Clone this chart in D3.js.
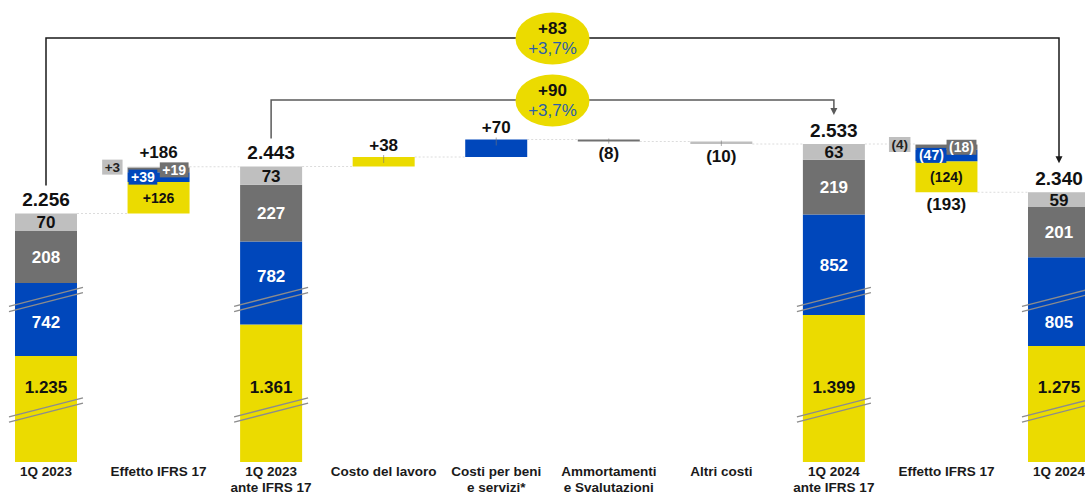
<!DOCTYPE html>
<html>
<head>
<meta charset="utf-8">
<script src="https://cdn.jsdelivr.net/npm/d3@7"></script>
<style>
  body { margin: 0; background: #fff; }
  svg { display: block; font-family: 'Liberation Sans', Arial, sans-serif; }
</style>
</head>
<body>
<div id="chart"></div>
<script>
// categories (\n = second line of the label)
const categories = ['1Q 2023', 'Effetto IFRS 17', '1Q 2023\nante IFRS 17', 'Costo del lavoro',
  'Costi per beni\ne servizi*', 'Ammortamenti\ne Svalutazioni', 'Altri costi',
  '1Q 2024\nante IFRS 17', 'Effetto IFRS 17', '1Q 2024'];
const kinds = ['total', 'delta', 'total', 'delta', 'delta', 'delta', 'delta', 'total', 'delta', 'total'];

// stacked components, bottom -> top (null = not present)
const yellowVals = [1235, 126, 1361, 38, null, null, null, 1399, -124, 1275];
const blueVals = [742, 39, 782, null, 70, null, null, 852, -47, 805];
const darkVals = [208, 19, 227, null, null, -8, null, 219, -18, 201];
const lightVals = [70, 3, 73, null, null, null, -10, 63, -4, 59];

// printed totals / variations
const totals = [2256, 186, 2443, 38, 70, -8, -10, 2533, -193, 2340];

// comparison brackets
const bracketFrom = [0, 2];
const bracketTo = [9, 7];
const bracketDelta = [83, 90];
const bracketPct = ['+3,7%', '+3,7%'];

const colors = ['#ebdb00', '#0047bb', '#707070', '#bfbfbf'];
const textColors = ['#111', '#fff', '#fff', '#111'];
const series = [yellowVals, blueVals, darkVals, lightVals];

const width = 1085, height = 495;
const baseY = 462;
const barW = 62;
// axis breaks inside the total bars (blue and yellow parts are shortened)
const blueCut = 450, yellowCut = 811;
const breakAt = [1469, 1911]; // yellow, blue break positions (shortened domain)

const fmt = d3.formatLocale({ decimal: ',', thousands: '.', grouping: [3], currency: ['', ''] }).format(',d');
const signed = v => v < 0 ? '(' + fmt(-v) + ')' : '+' + fmt(v);

const x = d3.scalePoint().domain(d3.range(categories.length)).range([46, 1059]);
const y = d3.scaleLinear().domain([yellowCut + blueCut, 2600]).range([baseY, baseY - 0.25 * (2600 - yellowCut - blueCut)]);

const svg = d3.select('#chart').append('svg')
  .attr('width', width)
  .attr('height', height);

// build bar pieces
let level = 0;
const bars = categories.map((c, i) => {
  const vals = series.map(s => s[i]);
  if (kinds[i] === 'total') {
    const [v1, v2, v3, v4] = vals;
    const pieces = [
      { s: 0, lo: yellowCut + blueCut, hi: v1 + blueCut, v: v1 },
      { s: 1, lo: v1 + blueCut, hi: v1 + v2, v: v2 },
      { s: 2, lo: v1 + v2, hi: v1 + v2 + v3, v: v3 },
      { s: 3, lo: v1 + v2 + v3, hi: v1 + v2 + v3 + v4, v: v4 }
    ];
    level = v1 + v2 + v3 + v4;
    return { i, kind: 'total', pieces, top: level, bottom: yellowCut + blueCut, end: level };
  }
  const sum = d3.sum(vals.filter(v => v != null));
  const start = level, end = level + sum;
  let acc = Math.min(start, end);
  const pieces = [];
  vals.forEach((v, s) => {
    if (v == null) return;
    pieces.push({ s, lo: acc, hi: acc + Math.abs(v), v });
    acc += Math.abs(v);
  });
  level = end;
  return { i, kind: 'delta', pieces, top: Math.max(start, end), bottom: Math.min(start, end), end, sum };
});

// connectors
const conn = svg.append('g');
for (let i = 0; i < bars.length - 1; i++) {
  conn.append('line')
    .attr('x1', x(i) + barW / 2).attr('x2', x(i + 1) - barW / 2)
    .attr('y1', y(bars[i].end)).attr('y2', y(bars[i].end))
    .attr('stroke', '#dcdcdc').attr('stroke-width', 1).attr('stroke-dasharray', '2,2');
}

// bars
const g = svg.append('g');
bars.forEach(b => {
  const bg = g.append('g');
  bg.selectAll('rect')
    .data(b.pieces)
    .enter().append('rect')
    .attr('x', x(b.i) - barW / 2)
    .attr('width', barW)
    .attr('y', d => y(d.hi))
    .attr('height', d => Math.max(1, y(d.lo) - y(d.hi)))
    .attr('fill', d => colors[d.s]);

  if (b.kind === 'total') {
    // break marks
    breakAt.forEach(bv => {
      const yb = y(bv);
      [-2.6, 2.6].forEach(off => {
        bg.append('line')
          .attr('x1', x(b.i) - barW / 2 - 6).attr('x2', x(b.i) + barW / 2 + 6)
          .attr('y1', yb + 9.5 + off).attr('y2', yb - 9.5 + off)
          .attr('stroke', '#8c8c8c').attr('stroke-width', 1.3);
      });
    });
    // segment labels
    b.pieces.forEach(p => {
      let cy = (y(p.lo) + y(p.hi)) / 2;
      if (p.s < 2) {
        const yb = y(breakAt[p.s]);
        if (Math.abs(cy - yb) < 23) cy = cy < yb ? yb - 23 : yb + 23;
      }
      bg.append('text')
        .attr('x', x(b.i)).attr('y', cy).attr('dy', '0.35em')
        .attr('text-anchor', 'middle')
        .attr('font-size', 17).attr('font-weight', 'bold')
        .attr('fill', textColors[p.s])
        .text(fmt(p.v));
    });
    // total above
    bg.append('text')
      .attr('x', x(b.i)).attr('y', y(b.top) - 14).attr('dy', '0.35em')
      .attr('text-anchor', 'middle')
      .attr('font-size', 19).attr('font-weight', 'bold').attr('fill', '#111')
      .text(fmt(totals[b.i]));
  } else {
    const neg = totals[b.i] < 0;
    const multi = b.pieces.length > 1;
    bg.append('text')
      .attr('x', x(b.i))
      .attr('y', neg ? y(b.bottom) + 12 : y(b.top) - (multi ? 15 : 12))
      .attr('dy', '0.35em')
      .attr('text-anchor', 'middle')
      .attr('font-size', 17).attr('font-weight', 'bold').attr('fill', '#111')
      .text(signed(totals[b.i]));

    if (!multi) {
      // small leader tick
      const edge = neg ? y(b.bottom) : y(b.top);
      const dir = neg ? -1 : 1;
      bg.append('line')
        .attr('x1', x(b.i)).attr('x2', x(b.i))
        .attr('y1', edge - 2 * dir).attr('y2', edge + Math.min(6, y(b.bottom) - y(b.top) + 1) * dir)
        .attr('stroke', '#777').attr('stroke-opacity', 0.6).attr('stroke-width', 1);
      return;
    }
    // labels of the IFRS 17 components
    const left = x(b.i) - barW / 2, right = x(b.i) + barW / 2;
    b.pieces.forEach(p => {
      const cy = (y(p.lo) + y(p.hi)) / 2;
      if (p.s === 0) {
        bg.append('text')
          .attr('x', x(b.i)).attr('y', cy).attr('dy', '0.35em')
          .attr('text-anchor', 'middle')
          .attr('font-size', 14).attr('font-weight', 'bold').attr('fill', '#111')
          .text(signed(p.v));
        return;
      }
      const box = bg.append('g');
      const rect = box.append('rect').attr('fill', colors[p.s]);
      const t = box.append('text')
        .attr('dy', '0.35em')
        .attr('font-size', p.s === 3 ? 13.5 : 14).attr('font-weight', 'bold')
        .attr('fill', textColors[p.s] === '#111' ? '#222' : '#fff')
        .text(signed(p.v));
      const tw = t.node().getComputedTextLength() + 5;
      let bx;
      if (p.s === 1) bx = left + 1;
      else if (p.s === 2) bx = right - 1 - tw;
      else bx = left - 5 - tw;
      rect.attr('x', bx).attr('y', cy - 7.5).attr('width', tw).attr('height', 15);
      t.attr('x', bx + 2.5).attr('y', cy);
    });
  }
});

// brackets with ellipses
const bracketY = [38, 100];
const bracketColor = ['#1a1a1a', '#5a5a5a'];
bracketFrom.forEach((f, k) => {
  const t = bracketTo[k];
  const ly = bracketY[k];
  const y0 = y(bars[f].top) - 28;
  const y1 = y(bars[t].top) - 29;
  const bk = svg.append('g');
  bk.append('path')
    .attr('d', `M${x(f)},${y0}V${ly}H${x(t)}V${y1 - 6}`)
    .attr('fill', 'none').attr('stroke', bracketColor[k]).attr('stroke-width', 1.5);
  bk.append('path')
    .attr('d', `M${x(t) - 3.5},${y1 - 7}L${x(t) + 3.5},${y1 - 7}L${x(t)},${y1}Z`)
    .attr('fill', bracketColor[k]);
  const cx = (x(f) + x(t)) / 2;
  bk.append('ellipse')
    .attr('cx', cx).attr('cy', ly + 0.5).attr('rx', 37).attr('ry', 26)
    .attr('fill', colors[0]);
  bk.append('text')
    .attr('x', cx).attr('y', ly - 9.5).attr('dy', '0.35em')
    .attr('text-anchor', 'middle')
    .attr('font-size', 17).attr('font-weight', 'bold').attr('fill', '#111')
    .text(signed(bracketDelta[k]));
  bk.append('text')
    .attr('x', cx).attr('y', ly + 10).attr('dy', '0.35em')
    .attr('text-anchor', 'middle')
    .attr('font-size', 17).attr('fill', '#2b5fa8')
    .text(bracketPct[k]);
});

// category labels
const xl = svg.append('g');
categories.forEach((c, i) => {
  const t = xl.append('text')
    .attr('x', x(i)).attr('y', 476)
    .attr('text-anchor', 'middle')
    .attr('font-size', 13.5).attr('font-weight', 'bold').attr('fill', '#1a1a1a');
  c.split('\n').forEach((line, j) => {
    t.append('tspan').attr('x', x(i)).attr('dy', j === 0 ? 0 : 15.5).text(line);
  });
});
</script>
</body>
</html>
